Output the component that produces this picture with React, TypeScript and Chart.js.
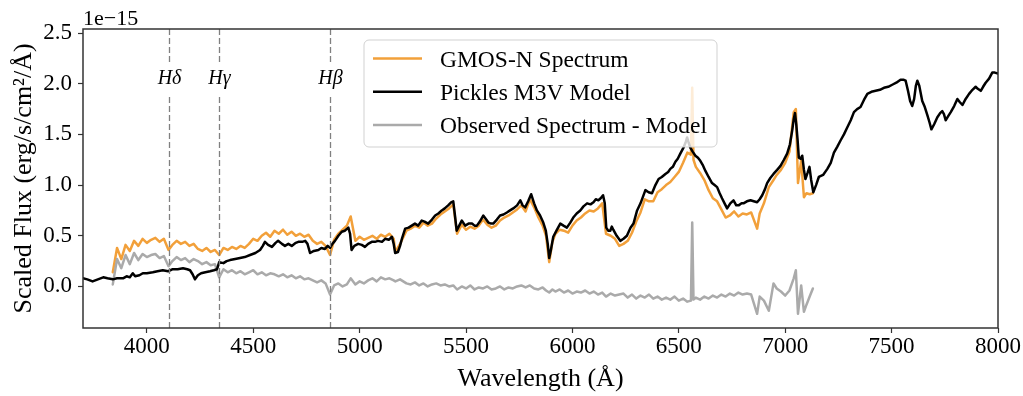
import React, { useEffect, useRef } from "react";
import { Chart, registerables } from "chart.js";

Chart.register(...registerables);

// Flux values are in units of 1e-15 erg/s/cm^2/Å.

// Pickles M3V template spectrum
const modelWave = [
  3700, 3720, 3745, 3770, 3795, 3815, 3840, 3860, 3888, 3905, 3920, 3934, 3945, 3965, 3981, 4000,
  4028, 4050, 4075, 4100, 4122, 4145, 4170, 4190, 4203, 4215, 4226, 4240, 4255, 4275, 4297, 4315,
  4330, 4340, 4360, 4375, 4391, 4415, 4438, 4460, 4485, 4510, 4532, 4545, 4555, 4570, 4588, 4605,
  4617, 4635, 4649, 4665, 4681, 4700, 4712, 4730, 4744, 4755, 4767, 4785, 4806, 4820, 4837, 4850,
  4861, 4872, 4884, 4900, 4916, 4930, 4947, 4955, 4962, 4975, 4993, 5010, 5025, 5040, 5057, 5072,
  5087, 5105, 5120, 5137, 5152, 5160, 5167, 5180, 5190, 5200, 5214, 5230, 5245, 5260, 5275, 5292,
  5305, 5322, 5340, 5355, 5370, 5386, 5400, 5416, 5430, 5440, 5448, 5456, 5468, 5480, 5496, 5512,
  5528, 5540, 5551, 5565, 5581, 5595, 5605, 5618, 5628, 5645, 5660, 5676, 5692, 5707, 5722, 5740,
  5755, 5766, 5778, 5792, 5806, 5820, 5833, 5848, 5863, 5875, 5884, 5891, 5898, 5910, 5925, 5943,
  5958, 5974, 5990, 6004, 6020, 6037, 6052, 6069, 6085, 6099, 6110, 6122, 6133, 6144, 6152, 6159,
  6168, 6178, 6185, 6192, 6208, 6225, 6240, 6256, 6273, 6287, 6304, 6320, 6343, 6358, 6374, 6390,
  6405, 6420, 6437, 6450, 6460, 6472, 6484, 6495, 6507, 6522, 6532, 6539, 6546, 6554, 6565, 6578,
  6590, 6601, 6612, 6625, 6640, 6656, 6668, 6680, 6692, 6703, 6715, 6727, 6742, 6757, 6770, 6781,
  6795, 6804, 6820, 6837, 6852, 6868, 6880, 6892, 6905, 6915, 6930, 6945, 6962, 6978, 6994, 7009,
  7022, 7033, 7040, 7046, 7052, 7058, 7064, 7072, 7080, 7088, 7095, 7105, 7114, 7122, 7132, 7145,
  7158, 7178, 7198, 7214, 7229, 7245, 7260, 7276, 7292, 7308, 7323, 7338, 7354, 7370, 7386, 7405,
  7425, 7445, 7464, 7484, 7503, 7522, 7542, 7555, 7566, 7577, 7587, 7597, 7606, 7614, 7621, 7630,
  7644, 7656, 7668, 7678, 7687, 7700, 7715, 7728, 7738, 7746, 7754, 7766, 7778, 7794, 7809, 7820,
  7833, 7848, 7864, 7880, 7895, 7905, 7919, 7930, 7942, 7958, 7973, 7985, 8000,
];
const modelFlux = [
  0.08, 0.07, 0.05, 0.07, 0.09, 0.08, 0.07, 0.08, 0.08, 0.1, 0.09, 0.13, 0.1, 0.11, 0.13, 0.13,
  0.14, 0.15, 0.16, 0.15, 0.17, 0.17, 0.18, 0.17, 0.16, 0.12, 0.07, 0.11, 0.13, 0.14, 0.15, 0.16,
  0.17, 0.24, 0.23, 0.25, 0.26, 0.27, 0.28, 0.29, 0.31, 0.33, 0.36, 0.4, 0.44, 0.41, 0.39, 0.43,
  0.45, 0.42, 0.4, 0.42, 0.4, 0.43, 0.44, 0.44, 0.45, 0.42, 0.33, 0.35, 0.36, 0.38, 0.37, 0.4,
  0.38, 0.42, 0.45, 0.5, 0.54, 0.55, 0.58, 0.52, 0.36, 0.4, 0.42, 0.41, 0.39, 0.42, 0.44, 0.44,
  0.45, 0.44, 0.47, 0.46, 0.49, 0.42, 0.33, 0.34, 0.4, 0.48, 0.57, 0.58, 0.6, 0.62, 0.6, 0.65,
  0.64, 0.62, 0.66, 0.7, 0.72, 0.75, 0.77, 0.8, 0.83, 0.84, 0.7, 0.55, 0.6, 0.65, 0.6, 0.62,
  0.62, 0.6, 0.6, 0.64, 0.7, 0.66, 0.63, 0.62, 0.62, 0.66, 0.7, 0.71, 0.73, 0.75, 0.77, 0.8,
  0.85, 0.8, 0.78, 0.84, 0.91, 0.82, 0.75, 0.7, 0.63, 0.55, 0.42, 0.28, 0.35, 0.49, 0.55, 0.62,
  0.6, 0.58, 0.63, 0.68, 0.72, 0.75, 0.79, 0.82, 0.81, 0.83, 0.86, 0.85, 0.87, 0.9, 0.82, 0.58,
  0.55, 0.55, 0.59, 0.56, 0.5, 0.45, 0.47, 0.5, 0.58, 0.62, 0.75, 0.82, 0.95, 0.93, 0.92, 1.0,
  1.06, 1.08, 1.11, 1.13, 1.16, 1.18, 1.23, 1.26, 1.31, 1.37, 1.42, 1.47, 1.42, 1.37, 1.33, 1.29,
  1.27, 1.24, 1.2, 1.14, 1.08, 1.02, 1.0, 0.98, 0.92, 0.87, 0.82, 0.77, 0.82, 0.85, 0.8, 0.8,
  0.82, 0.82, 0.84, 0.85, 0.84, 0.83, 0.86, 0.9, 0.96, 1.02, 1.07, 1.11, 1.15, 1.19, 1.25, 1.31,
  1.4, 1.54, 1.65, 1.71, 1.6, 1.45, 1.27, 1.26, 1.29, 1.15, 1.06, 1.12, 1.18, 1.05, 0.93, 1.0,
  1.08, 1.1, 1.16, 1.22, 1.32, 1.38, 1.44, 1.5, 1.57, 1.64, 1.72, 1.75, 1.77, 1.84, 1.9, 1.92,
  1.93, 1.94, 1.96, 1.97, 1.99, 2.01, 2.04, 2.04, 2.03, 1.93, 1.83, 1.78, 1.85, 1.98, 2.03, 1.98,
  1.83, 1.77, 1.69, 1.62, 1.55, 1.6, 1.67, 1.71, 1.73, 1.7, 1.64, 1.68, 1.72, 1.78, 1.85, 1.82,
  1.79, 1.85, 1.9, 1.94, 1.97, 1.95, 1.93, 1.97, 2.01, 2.05, 2.11, 2.11, 2.1,
];

// GMOS-N observed spectrum and the residual (observed minus model)
const obsWave = [
  3840, 3860, 3880, 3900, 3920, 3940, 3960, 3980, 4000, 4020,
  4040, 4060, 4080, 4102, 4120, 4140, 4160, 4180, 4200, 4220,
  4240, 4260, 4280, 4300, 4320, 4340, 4360, 4380, 4400, 4420,
  4440, 4460, 4480, 4500, 4520, 4540, 4560, 4580, 4600, 4620,
  4640, 4660, 4680, 4700, 4720, 4740, 4760, 4780, 4800, 4820,
  4840, 4861, 4880, 4900, 4920, 4940, 4958, 4980, 5000, 5020,
  5040, 5060, 5080, 5100, 5120, 5140, 5160, 5168, 5190, 5220,
  5240, 5260, 5280, 5300, 5320, 5340, 5360, 5380, 5400, 5420,
  5440, 5458, 5480, 5500, 5520, 5540, 5560, 5580, 5600, 5620,
  5640, 5660, 5680, 5700, 5720, 5740, 5760, 5780, 5800, 5820,
  5840, 5860, 5876, 5891, 5906, 5920, 5940, 5960, 5980, 6000,
  6020, 6040, 6060, 6080, 6100, 6120, 6140, 6158, 6180, 6200,
  6220, 6240, 6260, 6280, 6300, 6320, 6340, 6360, 6380, 6400,
  6420, 6440, 6460, 6480, 6500, 6520, 6540, 6557, 6563, 6569,
  6580, 6600, 6620, 6640, 6660, 6680, 6700, 6720, 6740, 6760,
  6780, 6800, 6820, 6840, 6868, 6880, 6900, 6923, 6945, 6960,
  6980, 7000, 7020, 7040, 7050, 7060, 7075, 7088, 7100, 7115,
  7130,
];
const obsFlux = [
  0.14, 0.38, 0.27, 0.41, 0.35, 0.45, 0.4, 0.47, 0.43, 0.46,
  0.48, 0.44, 0.47, 0.36, 0.41, 0.45, 0.42, 0.44, 0.4, 0.42,
  0.37, 0.35, 0.38, 0.34, 0.36, 0.31, 0.38, 0.36, 0.39, 0.37,
  0.4, 0.38, 0.42, 0.47, 0.45, 0.5, 0.53, 0.49, 0.55, 0.52,
  0.56, 0.51, 0.54, 0.5, 0.52, 0.49, 0.51, 0.45, 0.42, 0.44,
  0.4, 0.31, 0.46, 0.52, 0.56, 0.6, 0.69, 0.45, 0.49, 0.46,
  0.48, 0.5, 0.47, 0.51, 0.49, 0.52, 0.47, 0.34, 0.42, 0.55,
  0.57, 0.6, 0.58, 0.63, 0.6, 0.62, 0.67, 0.71, 0.74, 0.77,
  0.81, 0.52, 0.61, 0.56, 0.59, 0.57, 0.6, 0.66, 0.61, 0.58,
  0.6, 0.65, 0.68, 0.7, 0.73, 0.76, 0.8, 0.74, 0.86, 0.78,
  0.68, 0.6, 0.5, 0.24, 0.44, 0.52, 0.56, 0.55, 0.53, 0.6,
  0.65, 0.68, 0.72, 0.75, 0.74, 0.77, 0.82, 0.52, 0.5, 0.47,
  0.4, 0.42, 0.45, 0.53, 0.64, 0.73, 0.86, 0.84, 0.84, 0.93,
  0.96, 1.0, 1.03, 1.08, 1.13, 1.22, 1.32, 1.3, 1.96, 1.25,
  1.18, 1.12, 1.05, 0.95, 0.87, 0.84, 0.76, 0.68, 0.7, 0.74,
  0.69, 0.72, 0.71, 0.73, 0.57, 0.72, 0.82, 0.98, 1.05, 1.1,
  1.15, 1.22, 1.33, 1.72, 1.75, 1.02, 1.24, 0.88, 0.92, 0.91,
  0.92,
];
const residFlux = [
  0.02, 0.27, 0.18, 0.31, 0.22, 0.33, 0.26, 0.32, 0.29, 0.31,
  0.32, 0.28, 0.3, 0.2, 0.25, 0.29, 0.26, 0.28, 0.24, 0.27,
  0.25, 0.22, 0.24, 0.21, 0.22, 0.09, 0.17, 0.14, 0.16, 0.13,
  0.15, 0.12, 0.14, 0.16, 0.12, 0.14, 0.11, 0.13, 0.12, 0.1,
  0.12, 0.09, 0.11, 0.08, 0.1, 0.07, 0.08, 0.06, 0.04, 0.06,
  0.03, -0.08, 0.01, 0.03, 0.0, 0.02, 0.08, 0.02, 0.05, 0.03,
  0.06, 0.08, 0.05, 0.09, 0.07, 0.08, 0.06, 0.05, 0.07, 0.03,
  0.02, 0.04, 0.01, 0.03, 0.0, 0.02, 0.03, 0.01, 0.02, 0.0,
  0.01, -0.03, 0.0, -0.02, 0.01, -0.03, -0.01, -0.02, 0.0, -0.03,
  -0.02, 0.0, -0.03, -0.01, -0.02, 0.0, 0.01, -0.01, 0.01, -0.02,
  -0.03, -0.01, -0.04, -0.06, -0.03, -0.05, -0.03, -0.06, -0.04, -0.07,
  -0.05, -0.06, -0.04, -0.07, -0.05, -0.08, -0.06, -0.1, -0.07, -0.09,
  -0.08, -0.07, -0.11, -0.08, -0.12, -0.09, -0.11, -0.08, -0.12, -0.1,
  -0.13, -0.11, -0.13, -0.1, -0.14, -0.12, -0.15, -0.14, 0.63, -0.13,
  -0.11, -0.13, -0.1, -0.12, -0.09, -0.11, -0.08, -0.1, -0.07, -0.09,
  -0.06, -0.08, -0.07, -0.08, -0.27, -0.1, -0.14, -0.24, 0.03, -0.02,
  -0.05, -0.09, -0.04, 0.08, 0.16, -0.27, 0.01, -0.25, -0.18, -0.1,
  -0.02,
];

// Balmer line markers
const balmerWave = [4102, 4340, 4861];
const balmerLabels = ["Hδ", "Hγ", "Hβ"];

// Axis ticks
const xTickValues = [4000, 4500, 5000, 5500, 6000, 6500, 7000, 7500, 8000];
const yTickValues = [0, 0.5, 1.0, 1.5, 2.0, 2.5];

const seriesLabels = ["GMOS-N Spectrum", "Pickles M3V Model", "Observed Spectrum - Model"];
const seriesColors = ["#F2A03A", "#000000", "#AAAAAA"];
const seriesWidths = [2.5, 2.5, 2.5];

const SERIF = "'Liberation Serif', 'Times New Roman', serif";

const toPoints = (xs: number[], ys: number[]) => xs.map((x, i) => ({ x, y: ys[i] }));

const decorations = {
  id: "decorations",
  afterDatasetsDraw(chart: any) {
    const { ctx, chartArea } = chart;
    const xs = chart.scales.x;
    const { left, right, top, bottom } = chartArea;
    ctx.save();

    // Balmer markers: dashed verticals broken around their labels
    ctx.strokeStyle = "#808080";
    ctx.lineWidth = 1.3;
    ctx.setLineDash([6, 3]);
    ctx.font = `italic 20px ${SERIF}`;
    ctx.fillStyle = "#000";
    ctx.textAlign = "center";
    ctx.textBaseline = "alphabetic";
    balmerWave.forEach((w, i) => {
      const px = Math.round(xs.getPixelForValue(w)) + 0.5;
      ctx.beginPath();
      ctx.moveTo(px, top);
      ctx.lineTo(px, 63);
      ctx.moveTo(px, 97);
      ctx.lineTo(px, bottom);
      ctx.stroke();
      ctx.fillText(balmerLabels[i], px, 84);
    });
    ctx.setLineDash([]);

    // Legend box
    const bx = 364, by = 40, bw = 353, bh = 107, r = 5;
    ctx.beginPath();
    ctx.moveTo(bx + r, by);
    ctx.arcTo(bx + bw, by, bx + bw, by + bh, r);
    ctx.arcTo(bx + bw, by + bh, bx, by + bh, r);
    ctx.arcTo(bx, by + bh, bx, by, r);
    ctx.arcTo(bx, by, bx + bw, by, r);
    ctx.closePath();
    ctx.fillStyle = "rgba(255,255,255,0.8)";
    ctx.fill();
    ctx.strokeStyle = "rgba(204,204,204,0.9)";
    ctx.lineWidth = 1;
    ctx.stroke();

    ctx.font = `23.5px ${SERIF}`;
    ctx.textAlign = "left";
    seriesLabels.forEach((label, i) => {
      const ly = 58.5 + i * 33.3;
      ctx.strokeStyle = seriesColors[i];
      ctx.lineWidth = seriesWidths[i];
      ctx.beginPath();
      ctx.moveTo(373, ly);
      ctx.lineTo(422, ly);
      ctx.stroke();
      ctx.fillStyle = "#000";
      ctx.fillText(label, 440, ly + 8.3);
    });

    // Scale factor of the flux axis
    ctx.font = `22px ${SERIF}`;
    ctx.fillStyle = "#000";
    ctx.fillText("1e\u221215", left, 25);

    // Axes frame
    ctx.strokeStyle = "#333";
    ctx.lineWidth = 1.5;
    ctx.strokeRect(left, top, right - left, bottom - top);
    ctx.restore();
  },
};

export default function App() {
  const canvasRef = useRef<HTMLCanvasElement | null>(null);

  useEffect(() => {
    if (!canvasRef.current) return;
    const chart = new Chart(canvasRef.current, {
      type: "line",
      data: {
        datasets: [
          {
            label: seriesLabels[0],
            data: toPoints(obsWave, obsFlux),
            borderColor: seriesColors[0],
            borderWidth: seriesWidths[0],
            order: 2,
          },
          {
            label: seriesLabels[1],
            data: toPoints(modelWave, modelFlux),
            borderColor: seriesColors[1],
            borderWidth: seriesWidths[1],
            order: 0,
          },
          {
            label: seriesLabels[2],
            data: toPoints(obsWave, residFlux),
            borderColor: seriesColors[2],
            borderWidth: seriesWidths[2],
            order: 1,
          },
        ].map((d) => ({
          ...d,
          pointRadius: 0,
          tension: 0,
          fill: false,
          borderJoinStyle: "round" as const,
          borderCapStyle: "round" as const,
        })),
      },
      options: {
        animation: false,
        responsive: false,
        devicePixelRatio: 1,
        layout: { padding: { left: 0, right: 25, top: 29, bottom: 0 } },
        plugins: {
          legend: { display: false },
          tooltip: { enabled: false },
          title: { display: false },
        },
        scales: {
          x: {
            type: "linear",
            min: 3700,
            max: 8000,
            afterBuildTicks: (s: any) => {
              s.ticks = xTickValues.map((value) => ({ value }));
            },
            afterFit: (s: any) => {
              s.height = 68;
            },
            border: { display: false },
            grid: {
              drawOnChartArea: false,
              drawTicks: true,
              tickLength: 5,
              tickColor: "#333",
              tickWidth: 1.2,
            },
            ticks: {
              autoSkip: false,
              maxRotation: 0,
              padding: 0,
              color: "#000",
              font: { family: SERIF, size: 23 },
              callback: (v: any) => String(v),
            },
            title: {
              display: true,
              text: "Wavelength (Å)",
              color: "#000",
              font: { family: SERIF, size: 26 },
              padding: { top: 0, bottom: 1 },
            },
          },
          y: {
            type: "linear",
            min: -0.41,
            max: 2.54,
            afterBuildTicks: (s: any) => {
              s.ticks = yTickValues.map((value) => ({ value }));
            },
            afterFit: (s: any) => {
              s.width = 83;
            },
            border: { display: false },
            grid: {
              drawOnChartArea: false,
              drawTicks: true,
              tickLength: 5,
              tickColor: "#333",
              tickWidth: 1.2,
            },
            ticks: {
              autoSkip: false,
              padding: 6,
              color: "#000",
              font: { family: SERIF, size: 23 },
              callback: (v: any) => Number(v).toFixed(1),
            },
            title: {
              display: true,
              text: "Scaled Flux (erg/s/cm²/Å)",
              color: "#000",
              font: { family: SERIF, size: 26 },
              padding: { top: 9, bottom: 0 },
            },
          },
        },
      },
      plugins: [decorations],
    });
    return () => chart.destroy();
  }, []);

  return (
    <div style={{ position: "fixed", left: 0, top: 0, width: 1023, height: 396, background: "#fff" }}>
      <canvas ref={canvasRef} width={1023} height={396} style={{ display: "block" }} />
    </div>
  );
}
